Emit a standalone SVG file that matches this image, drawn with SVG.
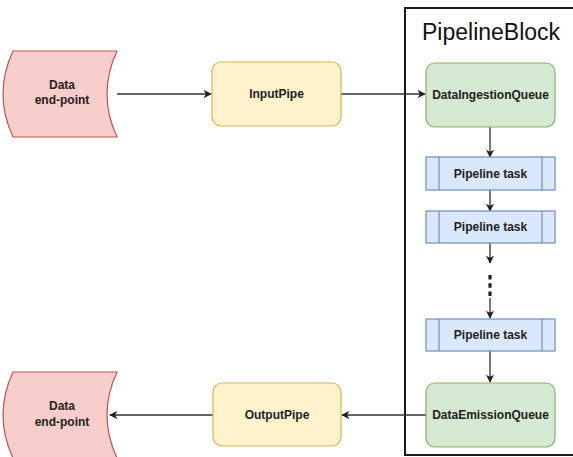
<svg xmlns="http://www.w3.org/2000/svg" width="573" height="457" viewBox="0 0 573 457">
  <defs>
    <marker id="arrow" viewBox="0 0 10 10" refX="9" refY="5" markerWidth="8" markerHeight="8" markerUnits="userSpaceOnUse" orient="auto">
      <path d="M0,0 L10,5 L0,10 L2.5,5 Z" fill="#222"/>
    </marker>
    <style>
      text { font-family: "Liberation Sans", Arial, sans-serif; font-weight: bold; font-size: 12px; fill: #222; text-anchor: middle; }
      .endpoint { fill: #f8cecc; stroke: #b85450; stroke-width: 1.2; }
      .pipe { fill: #fff2cc; stroke: #d6b656; stroke-width: 1.2; }
      .queue { fill: #d5e8d4; stroke: #82b366; stroke-width: 1.2; }
      .task { fill: #dae8fc; stroke: #6c8ebf; stroke-width: 1.2; }
      .edge { fill: none; stroke: #333; stroke-width: 1.3; marker-end: url(#arrow); }
      .title { font-weight: normal; font-size: 23px; text-anchor: start; fill: #111; }
    </style>
  </defs>

  <rect width="573" height="457" fill="#ffffff"/>

  <!-- Container -->
  <g id="pipeline-block">
    <rect x="405" y="8" width="180" height="447" fill="none" stroke="#1a1a1a" stroke-width="2"/>
    <text class="title" x="422" y="40">PipelineBlock</text>
  </g>

  <!-- Connectors -->
  <g id="connectors">
    <line class="edge" x1="117" y1="94" x2="211" y2="94"/>
    <line class="edge" x1="341" y1="94" x2="425" y2="94"/>
    <line class="edge" x1="490" y1="127" x2="490" y2="157"/>
    <line class="edge" x1="490" y1="190" x2="490" y2="211"/>
    <line class="edge" x1="490" y1="243" x2="490" y2="263"/>
    <line x1="490" y1="275" x2="490" y2="297" stroke="#222" stroke-width="3.2" stroke-dasharray="4.5 3.8"/>
    <line class="edge" x1="490" y1="298" x2="490" y2="318"/>
    <line class="edge" x1="490" y1="351" x2="490" y2="382"/>
    <line class="edge" x1="426" y1="415" x2="342" y2="415"/>
    <line class="edge" x1="213" y1="415" x2="110" y2="415"/>
  </g>

  <!-- Source end-point -->
  <g id="data-endpoint-in">
    <path class="endpoint" d="M13,51 L117,51 Q97,94 117,137 L13,137 Q-7,94 13,51 Z"/>
    <text x="62" y="89">Data</text>
    <text x="62" y="104">end-point</text>
  </g>

  <g id="input-pipe">
    <rect class="pipe" x="212" y="62" width="129" height="64" rx="9"/>
    <text x="276.5" y="98">InputPipe</text>
  </g>

  <g id="data-ingestion-queue">
    <rect class="queue" x="426" y="63" width="129" height="64" rx="9"/>
    <text x="490.5" y="99">DataIngestionQueue</text>
  </g>

  <g id="pipeline-task-1">
    <rect class="task" x="426" y="157" width="129" height="33"/>
    <line x1="439" y1="157" x2="439" y2="190" stroke="#6c8ebf" stroke-width="1.2"/>
    <line x1="542" y1="157" x2="542" y2="190" stroke="#6c8ebf" stroke-width="1.2"/>
    <text x="490.5" y="178">Pipeline task</text>
  </g>

  <g id="pipeline-task-2">
    <rect class="task" x="426" y="211" width="129" height="32"/>
    <line x1="439" y1="211" x2="439" y2="243" stroke="#6c8ebf" stroke-width="1.2"/>
    <line x1="542" y1="211" x2="542" y2="243" stroke="#6c8ebf" stroke-width="1.2"/>
    <text x="490.5" y="231">Pipeline task</text>
  </g>

  <g id="pipeline-task-3">
    <rect class="task" x="426" y="319" width="129" height="32"/>
    <line x1="439" y1="319" x2="439" y2="351" stroke="#6c8ebf" stroke-width="1.2"/>
    <line x1="542" y1="319" x2="542" y2="351" stroke="#6c8ebf" stroke-width="1.2"/>
    <text x="490.5" y="339">Pipeline task</text>
  </g>

  <g id="data-emission-queue">
    <rect class="queue" x="426" y="383" width="129" height="64" rx="9"/>
    <text x="490.5" y="419">DataEmissionQueue</text>
  </g>

  <g id="output-pipe">
    <rect class="pipe" x="213" y="383" width="128" height="63" rx="9"/>
    <text x="277" y="419">OutputPipe</text>
  </g>

  <!-- Destination end-point -->
  <g id="data-endpoint-out">
    <path class="endpoint" d="M13,372 L117,372 Q97,415 117,458 L13,458 Q-7,415 13,372 Z"/>
    <text x="62" y="410">Data</text>
    <text x="62" y="426">end-point</text>
  </g>
</svg>
